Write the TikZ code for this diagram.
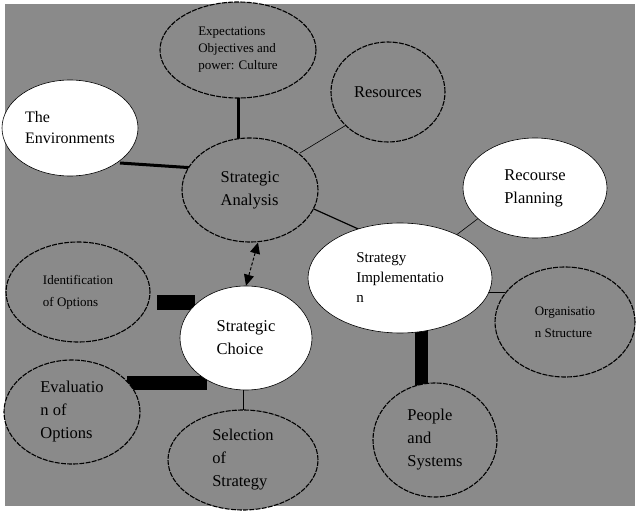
\documentclass[tikz,border=0pt]{standalone}
\usepackage{fontspec}
\setmainfont{Liberation Serif}
\usetikzlibrary{arrows.meta,shapes.geometric}
\begin{document}
\begin{tikzpicture}[x=1pt,y=-1pt,
  greyell/.style={ellipse, draw=black, dash pattern=on 5pt off 1.2pt, line width=1.1pt, fill=bggrey, align=left, inner sep=0pt},
  whiteell/.style={ellipse, draw=black, line width=0.6pt, fill=white, align=left, inner sep=0pt},
  bigtext/.style={font=\fontsize{16.5}{23}\selectfont},
  smalltext/.style={font=\fontsize{13}{22}\selectfont},
  bar/.style={fill=black, draw=none}]

\definecolor{bggrey}{RGB}{138,138,138}

% Page and background
\useasboundingbox (0,0) rectangle (640,516);
\fill[white] (0,0) rectangle (640,516);
\fill[bggrey] (5,4) rectangle (635,506);

% Connectors (drawn first, under the ellipses)
\draw[line width=3pt] (238,90) -- (238,140);
\draw[line width=3pt] (120,163) -- (195,168);
\draw[line width=0.6pt] (300,153) -- (348,124);
\draw[line width=1.2pt] (305,205) -- (365,232);
\draw[line width=0.6pt] (455,236) -- (492,208);
\draw[line width=0.8pt] (478,292) -- (505,292);
\draw[line width=0.8pt] (243,385) -- (243,415);
\fill[bar] (415,318) rectangle (428,387);
\fill[bar] (157,295) rectangle (195,310);
\fill[bar] (127,376) rectangle (207,390);

% Ellipses
\node (expect) [greyell, font=\fontsize{13}{17}\selectfont, minimum width=156pt, minimum height=96pt] at (238,50)
  {Expectations\\Objectives and\\power: Culture};
\node (resource) [greyell, bigtext, minimum width=114pt, minimum height=100pt] at (388,92)
  {Resources};
\node (environ) [whiteell, font=\fontsize{16}{21}\selectfont, minimum width=136pt, minimum height=96pt] at (70,128)
  {The\\Environments};
\node (analysis) [greyell, bigtext, minimum width=136pt, minimum height=104pt] at (250,190)
  {Strategic\\Analysis};
\node (planning) [whiteell, bigtext, minimum width=144pt, minimum height=100pt] at (535,188)
  {Recourse\\Planning};
\node (implement) [whiteell, font=\fontsize{15}{20}\selectfont, minimum width=184pt, minimum height=110pt] at (400,278)
  {Strategy\\Implementatio\\n};
\node (identify) [greyell, smalltext, minimum width=144pt, minimum height=100pt] at (78,292)
  {Identification\\of Options};
\node (organise) [greyell, smalltext, minimum width=140pt, minimum height=110pt] at (565,322)
  {Organisatio\\n Structure};
\node (choice) [whiteell, bigtext, minimum width=132pt, minimum height=104pt] at (246,338)
  {Strategic\\Choice};
\node (evaluate) [greyell, bigtext, minimum width=136pt, minimum height=104pt] at (72,412)
  {Evaluatio\\n of\\Options};
\node (select) [greyell, bigtext, minimum width=150pt, minimum height=100pt] at (243,460)
  {Selection\\of\\Strategy};
\node (people) [greyell, bigtext, minimum width=124pt, minimum height=114pt] at (435,440)
  {People\\and\\Systems};

% Two-way link between analysis and choice
\coordinate (aend) at ([xshift=8pt]analysis.south);
\draw[densely dashed, line width=1pt, {Triangle[length=11pt,width=10pt]}-{Triangle[length=11pt,width=10pt]}]
  (aend) -- (choice.north);

\end{tikzpicture}
\end{document}
